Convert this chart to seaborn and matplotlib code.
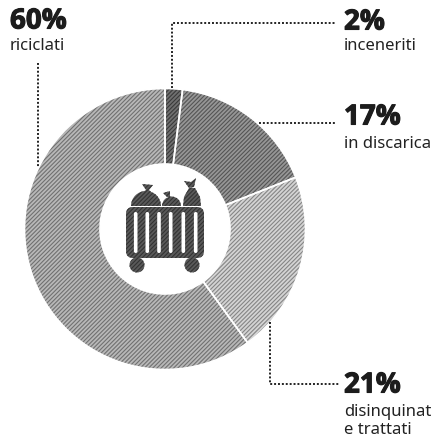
import matplotlib
matplotlib.use("Agg")
import matplotlib.pyplot as plt
import matplotlib.patheffects as pe
from matplotlib.patches import FancyBboxPatch, Circle, Polygon, Wedge
import seaborn as sns

values = [2, 17, 21, 60]
percent_labels = ["2%", "17%", "21%", "60%"]
names = ["inceneriti", "in discarica", "disinquinat\ne trattati", "riciclati"]
hatch_colors = ["#3a3a3a", "#555555", "#858585", "#707070"]
face_colors = ["#707070", "#969696", "#d4d4d4", "#b8b8b8"]

sns.set_theme(style="white")
plt.rcParams["font.family"] = ["Noto Sans", "DejaVu Sans"]
plt.rcParams["hatch.linewidth"] = 0.8

W, H = 436, 442
fig = plt.figure(figsize=(W / 100, H / 100), dpi=100)
ax = fig.add_axes([0, 0, 1, 1])

cx, cy, R, r = 165, 229, 140.5, 65

wedges, _ = ax.pie(values, startangle=-90, counterclock=True, center=(cx, cy), radius=R,
                   wedgeprops=dict(width=R - r), frame=False)
for w, hc, fc in zip(wedges, hatch_colors, face_colors):
    w.set_facecolor(fc)
    w.set_edgecolor(hc)
    w.set_hatch("////////")
    w.set_linewidth(0)
over, _ = ax.pie(values, startangle=-90, counterclock=True, center=(cx, cy), radius=R,
                 wedgeprops=dict(width=R - r, fill=False, edgecolor="white", linewidth=1.2), frame=False)
ax.set_xlim(0, W)
ax.set_ylim(H, 0)
ax.set_aspect("equal")
ax.axis("off")

dot = dict(color="#222222", lw=1.4, linestyle=(0, (1, 1)))
ax.plot([172, 172, 336], [88, 23, 23], **dot)
ax.plot([259, 336], [123, 123], **dot)
ax.plot([270, 270, 339], [322, 384, 384], **dot)
ax.plot([38, 38], [63, 168], **dot)

big = dict(fontsize=20, fontweight="bold", color="#1c1c1c", ha="left", va="center",
           family=["Open Sans", "DejaVu Sans"],
           path_effects=[pe.withStroke(linewidth=0.8, foreground="#1c1c1c")])
small = dict(fontsize=12, color="#222222", ha="left", va="center", linespacing=1.1)
ax.text(344, 22, percent_labels[0], **big)
ax.text(344, 46, names[0], **small)
ax.text(344, 117, percent_labels[1], **big)
ax.text(344, 144, names[1], **small)
ax.text(344, 385, percent_labels[2], **big)
ax.text(344, 421, names[2], **small)
ax.text(10, 21, percent_labels[3], **big)
ax.text(10, 46, names[3], **small)

ink = dict(fc="#5a5a5a", ec="#333333", lw=0, hatch="////////")
ax.add_patch(FancyBboxPatch((126, 207), 78, 51, boxstyle="round,pad=0,rounding_size=7", **ink))
for x in (135.7, 147.3, 159, 170.7, 183.3, 195.7):
    ax.add_patch(FancyBboxPatch((x - 1.8, 212), 3.6, 41, boxstyle="round,pad=0,rounding_size=1.8", fc="white", ec="none"))
ax.add_patch(Circle((137, 265), 7.5, **ink))
ax.add_patch(Circle((192, 265), 7.5, **ink))
ax.add_patch(Wedge((146, 206), 15, 180, 360, **ink))
ax.add_patch(Polygon([(142, 184), (153, 185), (149, 190), (151, 192), (143, 192), (146, 190)], **ink))
ax.add_patch(Wedge((171.5, 206), 9.5, 180, 360, **ink))
ax.add_patch(Polygon([(163, 193), (170, 191), (170, 197), (167, 197)], **ink))
ax.add_patch(Polygon([(183, 206), (184, 197), (189, 188), (195, 188), (200, 197), (201, 206)], **ink))
ax.add_patch(Polygon([(184, 181), (191, 182), (196, 178), (194, 187), (189, 188)], **ink))

fig.savefig("out.png", dpi=100, facecolor="white")
